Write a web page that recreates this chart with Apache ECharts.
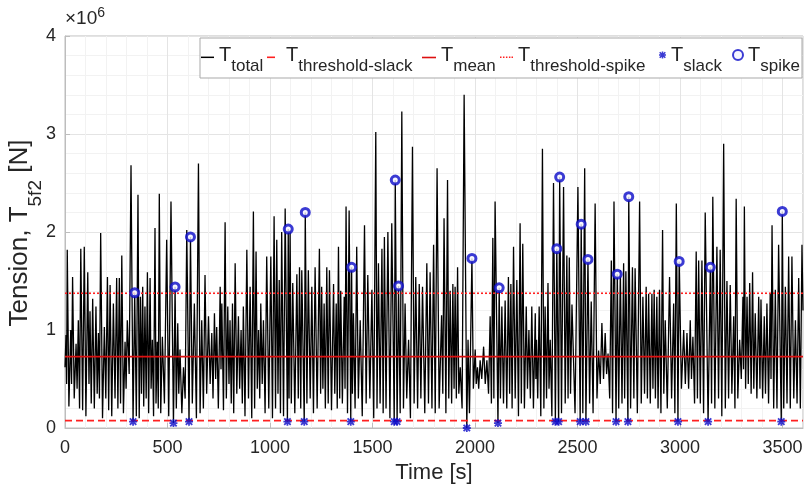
<!DOCTYPE html>
<html>
<head>
<meta charset="utf-8">
<script src="https://cdn.jsdelivr.net/npm/echarts@6/dist/echarts.min.js"></script>
<style>
html,body{margin:0;padding:0;background:#fff;}
#c{width:812px;height:496px;}
</style>
</head>
<body>
<div id="c"></div>
<script>
// ---- data (tension in units of 1e6 N, time in s) ----
const xTicks = [0, 500, 1000, 1500, 2000, 2500, 3000, 3500];
const yTicks = [0, 1, 2, 3, 4];

const tTotal = [
[0,0.62],[5,0.95],[8,0.45],[11,1.82],[19,0.22],[28,1.00],[32,0.45],[37,1.54],[45,0.30],[54,0.86],
[59,0.40],[65,1.10],[71,0.20],[77,1.83],[86,0.18],[94,1.85],[102,0.12],[111,1.59],[117,0.45],[122,1.19],
[128,0.25],[135,1.32],[143,0.20],[151,1.24],[157,0.35],[163,0.97],[168,0.30],[174,1.99],[183,0.10],[192,1.03],
[199,0.30],[207,1.54],[213,0.18],[220,1.46],[228,0.12],[236,1.27],[244,0.30],[252,1.53],[258,0.20],[265,1.53],
[271,0.25],[277,1.76],[285,0.15],[293,0.88],[298,0.40],[304,1.10],[313,0.55],[322,2.68],[332,0.065],[340,1.38],
[348,0.12],[356,2.38],[362,0.10],[368,1.34],[373,0.35],[379,1.44],[384,0.22],[390,1.24],[396,0.30],[402,1.59],
[408,0.15],[415,1.53],[420,0.40],[426,0.90],[432,0.12],[439,2.04],[444,0.25],[450,0.88],[455,0.20],[460,2.39],
[467,0.15],[475,0.93],[485,0.25],[496,1.92],[506,0.12],[517,2.31],[529,0.05],[537,1.44],[543,0.20],[550,1.07],
[555,0.35],[561,0.80],[570,0.15],[578,0.62],[586,0.30],[594,2.02],[605,0.065],[612,1.95],[621,0.25],[631,1.27],
[641,0.10],[651,2.70],[659,0.15],[667,1.10],[675,0.20],[683,1.56],[691,0.35],[700,1.14],[708,0.45],[716,0.97],
[722,0.30],[729,1.17],[735,0.50],[740,1.03],[748,0.20],[757,1.44],[761,0.60],[765,1.27],[773,0.18],[781,2.10],
[787,0.30],[794,1.24],[800,0.45],[805,1.10],[811,0.25],[817,1.27],[823,0.15],[830,1.68],[838,0.35],[846,1.14],
[852,0.40],[859,1.00],[865,0.25],[870,1.24],[878,0.12],[887,1.82],[895,0.30],[903,1.44],[911,0.10],[919,2.21],
[925,0.20],[932,1.80],[938,0.40],[944,1.00],[950,0.30],[955,1.27],[962,0.45],[968,1.10],[976,0.15],[984,1.75],
[994,0.20],[1004,1.75],[1012,0.10],[1020,2.16],[1027,0.20],[1033,1.92],[1039,0.35],[1045,1.51],[1051,0.15],[1057,2.00],
[1066,0.12],[1074,2.24],[1085,0.065],[1089,2.03],[1093,0.30],[1098,2.02],[1104,0.25],[1111,1.48],[1121,0.15],[1131,1.57],
[1138,0.30],[1144,1.64],[1150,0.20],[1155,1.61],[1167,0.065],[1172,2.20],[1180,0.25],[1187,1.61],[1196,0.30],[1204,1.44],
[1212,0.15],[1220,1.64],[1230,0.20],[1241,1.83],[1247,0.35],[1252,1.44],[1258,0.40],[1264,1.27],[1270,0.20],[1277,1.64],
[1284,0.25],[1290,1.61],[1300,0.18],[1310,1.47],[1316,0.35],[1323,1.27],[1328,0.20],[1334,1.85],[1340,0.30],[1345,1.40],
[1353,0.25],[1362,1.34],[1366,0.40],[1371,2.26],[1378,0.15],[1386,2.22],[1394,0.065],[1398,1.64],[1402,0.35],[1407,1.17],
[1415,0.20],[1423,1.85],[1431,0.30],[1440,1.10],[1450,0.12],[1461,2.07],[1469,0.25],[1477,1.56],[1487,0.30],[1497,1.41],
[1506,0.10],[1516,3.02],[1522,0.20],[1529,1.68],[1537,0.25],[1546,1.83],[1552,0.15],[1558,1.95],[1566,0.20],[1575,2.00],
[1585,0.10],[1594,2.09],[1606,0.065],[1611,2.53],[1620,0.065],[1627,1.45],[1635,0.15],[1643,3.23],[1651,0.20],[1659,1.27],
[1667,0.30],[1676,0.90],[1685,0.10],[1695,2.87],[1703,0.25],[1711,1.54],[1720,0.20],[1728,1.47],[1736,0.30],[1744,1.44],
[1755,0.15],[1765,1.68],[1773,0.25],[1781,1.59],[1790,0.20],[1798,1.87],[1806,0.15],[1815,2.65],[1825,0.20],[1837,1.15],
[1843,0.35],[1849,2.14],[1858,0.15],[1866,2.53],[1872,0.30],[1879,1.40],[1886,0.25],[1892,1.47],[1898,0.40],[1903,1.44],
[1909,0.30],[1915,1.64],[1921,0.35],[1928,0.62],[1937,0.20],[1947,3.40],[1960,0.00],[1966,0.90],[1973,0.15],[1985,1.73],
[1992,0.40],[2001,0.80],[2006,0.45],[2012,0.62],[2018,0.40],[2025,0.69],[2033,0.50],[2042,0.83],[2050,0.45],[2058,0.69],
[2066,0.35],[2074,1.14],[2080,0.25],[2087,1.94],[2092,0.30],[2098,2.31],[2112,0.05],[2118,1.43],[2124,0.30],[2131,1.24],
[2139,0.25],[2147,1.30],[2155,0.20],[2163,1.54],[2169,0.35],[2175,1.47],[2181,0.20],[2188,1.85],[2196,0.30],[2204,1.51],
[2212,0.12],[2220,2.09],[2226,0.25],[2233,1.88],[2241,0.20],[2250,1.24],[2256,0.40],[2263,1.00],[2270,0.30],[2277,1.24],
[2285,0.20],[2294,1.17],[2297,0.50],[2300,0.90],[2306,0.30],[2313,1.24],[2321,0.12],[2329,2.85],[2336,0.20],[2342,1.24],
[2349,0.30],[2356,1.48],[2361,0.40],[2367,0.90],[2375,0.12],[2383,2.50],[2392,0.065],[2399,1.83],[2408,0.065],[2413,2.56],
[2422,0.15],[2432,2.46],[2440,0.25],[2448,1.76],[2454,0.30],[2460,1.74],[2466,0.35],[2473,1.26],[2488,0.15],[2502,2.46],
[2513,0.065],[2518,2.08],[2526,0.15],[2535,2.65],[2541,0.065],[2551,1.72],[2559,0.25],[2567,1.29],[2576,0.15],[2586,2.29],
[2595,0.30],[2603,0.79],[2611,0.45],[2619,1.07],[2627,0.50],[2635,0.97],[2642,0.55],[2649,0.76],[2657,0.30],[2665,1.71],
[2671,0.15],[2678,2.31],[2688,0.065],[2694,1.57],[2701,0.20],[2709,1.61],[2717,0.25],[2725,1.68],[2730,0.30],[2736,1.60],
[2746,0.065],[2750,2.36],[2759,0.20],[2768,1.64],[2775,0.30],[2781,1.63],[2792,0.15],[2803,2.31],[2811,0.25],[2819,1.34],
[2827,0.35],[2835,1.44],[2841,0.30],[2847,1.37],[2855,0.25],[2863,1.37],[2868,0.40],[2874,1.41],[2880,0.30],[2887,1.34],
[2893,0.20],[2900,1.41],[2907,0.15],[2915,2.02],[2921,0.35],[2928,1.10],[2938,0.20],[2949,1.54],[2959,0.30],[2969,1.27],
[2975,0.15],[2982,2.29],[2990,0.065],[2996,1.70],[3007,0.40],[3018,1.00],[3026,0.45],[3034,0.97],[3042,0.40],[3050,1.10],
[3056,0.50],[3063,0.93],[3071,0.25],[3079,1.80],[3085,0.30],[3091,1.71],[3099,0.25],[3107,1.71],[3115,0.15],[3123,2.20],
[3137,0.065],[3148,1.64],[3154,0.25],[3160,2.36],[3170,0.20],[3180,1.85],[3188,0.30],[3196,1.82],[3204,0.12],[3213,2.90],
[3221,0.20],[3229,1.50],[3237,0.30],[3245,1.46],[3253,0.35],[3262,1.14],[3268,0.20],[3274,2.34],[3282,0.30],[3291,0.90],
[3299,0.50],[3307,1.34],[3310,0.60],[3314,2.26],[3320,0.40],[3327,1.34],[3333,0.45],[3340,1.48],[3347,0.35],[3354,1.59],
[3360,0.40],[3367,1.17],[3375,0.30],[3384,1.34],[3390,0.40],[3395,1.31],[3403,0.30],[3411,1.14],[3417,0.35],[3424,1.27],
[3432,0.25],[3440,1.37],[3444,0.50],[3449,2.07],[3457,0.20],[3465,1.41],[3473,0.20],[3481,1.87],[3494,0.065],[3499,2.21],
[3506,0.20],[3514,1.44],[3522,0.25],[3530,1.75],[3538,0.20],[3546,1.75],[3555,0.30],[3563,1.10],[3571,0.25],[3579,1.53],
[3587,0.20],[3595,1.87],[3600,1.20]
];

const slackTime  = [332, 529, 605, 1085, 1167, 1394, 1606, 1620, 1960, 2112, 2392, 2408, 2513, 2541, 2688, 2746, 2990, 3137, 3494];
const slackValue = [0.065, 0.05, 0.065, 0.065, 0.065, 0.065, 0.065, 0.065, 0.0, 0.05, 0.065, 0.065, 0.065, 0.065, 0.065, 0.065, 0.065, 0.065, 0.065];

const spikeTime  = [340, 537, 612, 1089, 1172, 1398, 1611, 1627, 1985, 2118, 2399, 2413, 2518, 2551, 2694, 2750, 2996, 3148, 3499];
const spikeValue = [1.38, 1.44, 1.95, 2.03, 2.20, 1.64, 2.53, 1.45, 1.73, 1.43, 1.83, 2.56, 2.08, 1.72, 1.57, 2.36, 1.70, 1.64, 2.21];

const timeRange = [0, 3600];
const thresholdSlack = 0.075;
const meanTension = 0.728;
const thresholdSpike = 1.375;

const seriesNames = ['T_total', 'T_threshold-slack', 'T_mean', 'T_threshold-spike', 'T_slack', 'T_spike'];
const seriesSubs = ['total', 'threshold-slack', 'mean', 'threshold-spike', 'slack', 'spike'];

// ---- chart ----
const FONT = '"Liberation Sans", Arial, Helvetica, sans-serif';
const TXT = '#262626';
const BLUE = '#0a0ac8';
const chart = echarts.init(document.getElementById('c'), null, {renderer: 'canvas'});

const legendRich = {
  t: {fontSize: 20, fontFamily: FONT, color: TXT},
  s: {fontSize: 17, fontFamily: FONT, color: TXT, padding: [22, 0, 0, 0]}
};
function legendFmt(name) {
  return '{t|T}{s|' + seriesSubs[seriesNames.indexOf(name)] + '}';
}
// legend icon shapes (invisible move/line points pad the box so the stroke sits a bit low)
const ICON_SOLID  = 'path://M0,-5L0,-5M0,0h14v1.6h-14z';
const ICON_DASH   = 'path://M0,-5L0,-5M14,2L14,2M0,0h8v1.6h-8z';
const ICON_DOT    = 'path://M0,-5L0,-5M14,2L14,2M0,0h1.6v1.6h-1.6zM3.2,0h1.6v1.6h-1.6zM6.4,0h1.6v1.6h-1.6zM9.6,0h1.6v1.6h-1.6zM12.4,0h1.6v1.6h-1.6z';
const ICON_STAR   = 'path://M-1.1,-5h2.2v10h-2.2zM-5,-1.1h10v2.2h-10zM-3.2,-4.8L4.8,3.2L3.2,4.8L-4.8,-3.2ZM3.2,-4.8L4.8,-3.2L-3.2,4.8L-4.8,3.2Z';

function mkLegend(name, left, w, h, icon) {
  const item = {name: name};
  if (icon) item.icon = icon;
  return {
    data: [item], left: left, top: 45, padding: 0, z: 20,
    itemWidth: w, itemHeight: h, itemGap: 0,
    formatter: legendFmt, textStyle: {rich: legendRich},
    selectedMode: false
  };
}
const horiz = v => [[timeRange[0], v], [timeRange[1], v]];

chart.setOption({
  animation: false,
  backgroundColor: '#fff',
  textStyle: {fontFamily: FONT},
  grid: {left: 65, right: 9, top: 36, bottom: 68, outerBoundsMode: 'none', containLabel: false,
         show: true, borderColor: '#bdbdbd', borderWidth: 1, backgroundColor: 'transparent'},
  xAxis: {
    type: 'value', min: timeRange[0], max: timeRange[1], interval: 500,
    name: 'Time [s]', nameLocation: 'middle', nameGap: 29,
    nameTextStyle: {fontSize: 22, color: TXT, fontFamily: FONT},
    axisLine: {show: true, lineStyle: {color: '#bdbdbd'}},
    axisTick: {show: true, inside: true, length: 5, lineStyle: {color: '#bdbdbd'}},
    axisLabel: {fontSize: 18, color: TXT, margin: 11, showMaxLabel: false,
      formatter: v => xTicks.includes(v) ? String(v) : ''},
    splitLine: {show: true, lineStyle: {color: '#e4e4e4'}},
    minorTick: {show: false, splitNumber: 5},
    minorSplitLine: {show: true, lineStyle: {color: '#f2f2f2'}}
  },
  yAxis: {
    type: 'value', min: 0, max: 4, interval: 1,
    axisLine: {show: true, lineStyle: {color: '#bdbdbd'}},
    axisTick: {show: true, inside: true, length: 5, lineStyle: {color: '#bdbdbd'}},
    axisLabel: {fontSize: 18, color: TXT, margin: 9,
      formatter: v => yTicks.includes(v) ? String(v) : ''},
    splitLine: {show: true, lineStyle: {color: '#e4e4e4'}},
    minorTick: {show: false, splitNumber: 5},
    minorSplitLine: {show: true, lineStyle: {color: '#f2f2f2'}}
  },
  legend: [
    mkLegend(seriesNames[0], 201, 13, 7, ICON_SOLID),
    mkLegend(seriesNames[1], 267, 14, 7, ICON_DASH),
    mkLegend(seriesNames[2], 422, 14, 7, ICON_SOLID),
    mkLegend(seriesNames[3], 500, 13, 7, ICON_DOT),
    mkLegend(seriesNames[4], 659, 7, 7, ICON_STAR),
    mkLegend(seriesNames[5], 732, 10, 10, 'circle')
  ],
  graphic: [
    {type: 'rect', z: 10, shape: {x: 200, y: 38, width: 602, height: 40},
     style: {fill: '#fff', stroke: '#a9a9a9', lineWidth: 1}},
    {type: 'text', left: 65, top: 6, z: 10,
     style: {text: '{a|×10}{b|6}', rich: {
       a: {fontSize: 19, fill: TXT, fontFamily: FONT, padding: [12, 0, 0, 0]},
       b: {fontSize: 14, fill: TXT, fontFamily: FONT}
     }}},
    {type: 'text', x: 20, y: 233, rotation: Math.PI / 2, z: 10,
     style: {text: '{a|Tension, T}{b|5f2}{a| [N]}', align: 'center', verticalAlign: 'middle', rich: {
       a: {fontSize: 26, fill: TXT, fontFamily: FONT},
       b: {fontSize: 19, fill: TXT, fontFamily: FONT, padding: [32, 0, 0, 0]}
     }}}
  ],
  series: [
    {name: seriesNames[0], type: 'line', data: tTotal, symbol: 'none', z: 2,
     lineStyle: {color: '#000', width: 1.3}, itemStyle: {color: '#000'}},
    {name: seriesNames[1], type: 'line', data: horiz(thresholdSlack), symbol: 'none', z: 3,
     lineStyle: {color: '#ff2020', width: 1.6, type: [7, 4]}, itemStyle: {color: '#ff2020'}},
    {name: seriesNames[2], type: 'line', data: horiz(meanTension), symbol: 'none', z: 3,
     lineStyle: {color: '#dd1010', width: 1.6}, itemStyle: {color: '#dd1010'}},
    {name: seriesNames[3], type: 'line', data: horiz(thresholdSpike), symbol: 'none', z: 3,
     lineStyle: {color: '#ff2020', width: 1.6, type: [2, 2]}, itemStyle: {color: '#ff2020'}},
    {name: seriesNames[4], type: 'scatter', data: slackTime.map((t, i) => [t, slackValue[i]]),
     symbol: ICON_STAR, symbolSize: 8, z: 4, itemStyle: {color: BLUE}},
    {name: seriesNames[5], type: 'scatter', data: spikeTime.map((t, i) => [t, spikeValue[i]]),
     symbol: 'circle', symbolSize: 8, z: 5,
     itemStyle: {color: '#f4f4ff', borderColor: BLUE, borderWidth: 3}}
  ]
});
</script>
</body>
</html>
